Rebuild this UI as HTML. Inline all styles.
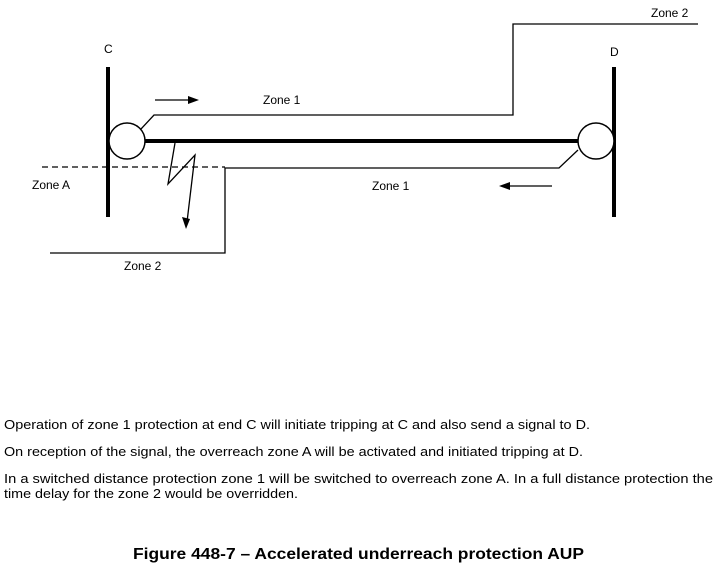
<!DOCTYPE html>
<html><head><meta charset="utf-8"><style>
html,body{margin:0;padding:0;background:#fff;}
svg{display:block;font-family:"Liberation Sans",Arial,sans-serif;}
</style></head><body>
<svg width="720" height="573" viewBox="0 0 720 573" xmlns="http://www.w3.org/2000/svg">
<g stroke="#000" fill="none">
 <line x1="108" y1="67" x2="108" y2="217" stroke-width="4"/>
 <line x1="614" y1="67" x2="614" y2="217" stroke-width="4"/>
 <line x1="145" y1="141" x2="578" y2="141" stroke-width="4"/>
 <circle cx="127" cy="141" r="18" stroke-width="1.5" fill="#fff"/>
 <circle cx="596" cy="141" r="18" stroke-width="1.5" fill="#fff"/>
 <polyline points="141,129 154,115 513,115 513,24 698,24" stroke-width="1.3"/>
 <polyline points="578,150 559,168 225,168 225,253 50,253" stroke-width="1.3"/>
 <line x1="42" y1="167" x2="225" y2="167" stroke-width="1.2" stroke-dasharray="6,4"/>
 <polyline points="175,143 168,184 195,155 187,222" stroke-width="1.3"/>
 <line x1="155" y1="100" x2="190" y2="100" stroke-width="1.3"/>
 <line x1="552" y1="186" x2="507" y2="186" stroke-width="1.3"/>
</g>
<g fill="#000">
 <polygon points="199,100 188,96 188,104"/>
 <polygon points="499,186 510,182 510,190"/>
 <polygon points="186,229 182,217 190,219"/>
</g>
<g font-size="12" fill="#000">
 <text x="104" y="53">C</text>
 <text x="610" y="56">D</text>
 <text x="263" y="104">Zone 1</text>
 <text x="651" y="17">Zone 2</text>
 <text x="372" y="190">Zone 1</text>
 <text x="32" y="189">Zone A</text>
 <text x="124" y="270">Zone 2</text>
</g>
<g font-size="12.5" fill="#000">
 <text x="4" y="429" textLength="586" lengthAdjust="spacingAndGlyphs">Operation of zone 1 protection at end C will initiate tripping at C and also send a signal to D.</text>
 <text x="4" y="456" textLength="579" lengthAdjust="spacingAndGlyphs">On reception of the signal, the overreach zone A will be activated and initiated tripping at D.</text>
 <text x="4" y="483" textLength="709" lengthAdjust="spacingAndGlyphs">In a switched distance protection zone 1 will be switched to overreach zone A. In a full distance protection the</text>
 <text x="4" y="498" textLength="294" lengthAdjust="spacingAndGlyphs">time delay for the zone 2 would be overridden.</text>
</g>
<text x="133" y="559" font-size="15.5" font-weight="bold" textLength="451" lengthAdjust="spacingAndGlyphs">Figure 448-7 – Accelerated underreach protection AUP</text>
</svg>
</body></html>
